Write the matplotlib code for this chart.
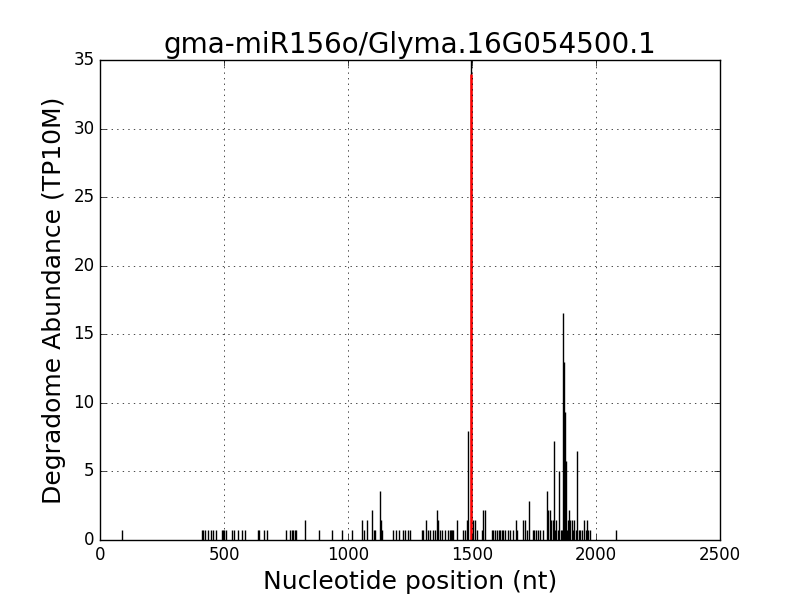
import matplotlib
matplotlib.use('Agg')
import matplotlib.pyplot as plt, numpy as np

# Degradome reads (one TP10M step = 0.72)
UNIT = 0.72

# Positions (nt) and read counts
pos = [87,
       410, 417, 423, 434, 446, 457, 468,
       490, 496, 502, 508,
       531, 540, 558, 571, 585,
       638, 643, 662, 674,
       750, 767, 773, 779, 785, 791,
       828, 883, 937, 977, 1017,
       1058, 1064, 1077, 1098, 1105, 1109, 1129, 1133, 1137,
       1183, 1194, 1207, 1223, 1229, 1243, 1252,
       1297, 1303, 1315, 1324, 1331, 1342, 1351, 1357, 1364,
       1371, 1378, 1391, 1405, 1410, 1415, 1420, 1425, 1438,
       1465, 1472, 1478, 1485, 1497,
       1505, 1512, 1519, 1539, 1543, 1552,
       1579, 1585, 1592, 1600, 1607, 1613, 1619, 1627, 1635, 1645, 1655, 1667,
       1677, 1683, 1704, 1714, 1722, 1731,
       1747, 1752, 1760, 1767, 1774, 1788,
       1801, 1808, 1815, 1820, 1826, 1831, 1836, 1840, 1845,
       1852, 1858, 1862, 1867, 1871, 1873, 1878, 1882, 1886,
       1892, 1897, 1902, 1907, 1912, 1918, 1925, 1930, 1936, 1942,
       1952, 1958, 1962, 1968, 1974,
       2081]
reads = [1,
         1, 1, 1, 1, 1, 1, 1,
         1, 1, 1, 1,
         1, 1, 1, 1, 1,
         1, 1, 1, 1,
         1, 1, 1, 1, 1, 1,
         2, 1, 1, 1, 1,
         2, 1, 2, 3, 1, 1, 5, 2, 1,
         1, 1, 1, 1, 1, 1, 1,
         1, 1, 2, 1, 1, 1, 1, 3, 2,
         1, 1, 1, 1, 1, 1, 1, 1, 2,
         1, 1, 2, 11, 50,
         2, 2, 1, 1, 3, 3,
         1, 1, 1, 1, 1, 1, 1, 1, 1, 1, 1, 1,
         2, 1, 2, 2, 1, 4,
         1, 1, 1, 1, 1, 1,
         5, 3, 3, 2, 2, 10, 1, 2, 1,
         7, 1, 1, 23, 18, 13, 8, 1, 2,
         3, 2, 2, 1, 2, 1, 9, 1, 1, 1,
         2, 1, 2, 1, 1,
         1]

# miRNA cleavage site (TP10M)
site_pos = 1497
site_abund = 34.0

title = 'gma-miR156o/Glyma.16G054500.1'

plt.style.use('classic')
fig = plt.figure(figsize=(8, 6), dpi=100, facecolor='white')
ax = fig.add_axes([0.125, 0.1, 0.775, 0.8])
ax.vlines(pos, 0, np.array(reads) * UNIT, colors='k', linewidth=1)
ax.vlines([site_pos], 0, [site_abund], colors='r', linewidth=1.8)
ax.set_xlim(0, 2500)
ax.set_ylim(0, 35)
ax.set_xticks(np.arange(0, 2501, 500))
ax.set_yticks(np.arange(0, 36, 5))
ax.grid(True, color='k', linestyle=':')
ax.tick_params(labelsize=12)
ax.set_title(title, fontsize=20)
ax.set_xlabel('Nucleotide position (nt)', fontsize=18)
ax.set_ylabel('Degradome Abundance (TP10M)', fontsize=18)
fig.savefig('out.png', dpi=100, facecolor='white')
